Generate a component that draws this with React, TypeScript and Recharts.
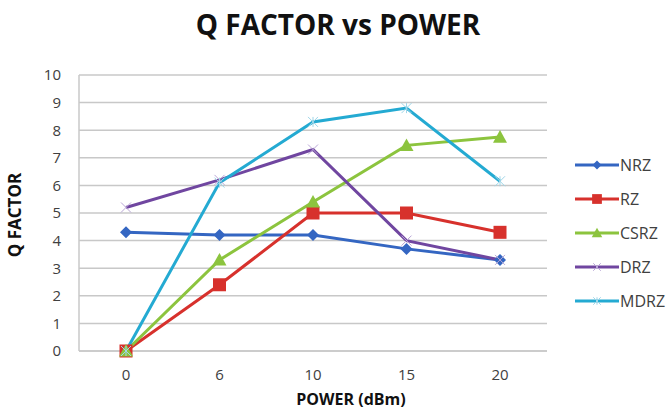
import { CartesianGrid, Line, LineChart, XAxis, YAxis } from "recharts";

const powers = ["0", "6", "10", "15", "20"];
const nrz = [4.3, 4.2, 4.2, 3.7, 3.3];
const rz = [0, 2.4, 5.0, 5.0, 4.3];
const csrz = [0, 3.3, 5.4, 7.45, 7.75];
const drz = [5.2, 6.2, 7.3, 4.0, 3.3];
const mdrz = [0, 6.1, 8.3, 8.8, 6.15];
const yTicks = [0, 1, 2, 3, 4, 5, 6, 7, 8, 9, 10];

const data = powers.map((p, i) => ({
  power: p,
  NRZ: nrz[i],
  RZ: rz[i],
  CSRZ: csrz[i],
  DRZ: drz[i],
  MDRZ: mdrz[i],
}));

type MarkerKind = "diamond" | "square" | "triangle" | "cross" | "plus";

const seriesList: { key: string; color: string; marker: MarkerKind }[] = [
  { key: "NRZ", color: "#3466c2", marker: "diamond" },
  { key: "RZ", color: "#d7312c", marker: "square" },
  { key: "CSRZ", color: "#8cc43e", marker: "triangle" },
  { key: "DRZ", color: "#7046a0", marker: "cross" },
  { key: "MDRZ", color: "#24aad2", marker: "plus" },
];

const font = "'Open Sans', sans-serif";

const Marker = ({ kind, cx, cy, color, scale = 1 }: { kind: MarkerKind; cx: number; cy: number; color: string; scale?: number }) => {
  const s = scale;
  if (kind === "diamond") {
    const r = 6 * s;
    return <polygon points={`${cx},${cy - r} ${cx + r},${cy} ${cx},${cy + r} ${cx - r},${cy}`} fill={color} />;
  }
  if (kind === "square") {
    const r = 6.5 * s;
    return <rect x={cx - r} y={cy - r} width={r * 2} height={r * 2} fill={color} />;
  }
  if (kind === "triangle") {
    const r = 7 * s;
    return <polygon points={`${cx},${cy - r} ${cx + r},${cy + r * 0.8} ${cx - r},${cy + r * 0.8}`} fill={color} />;
  }
  if (kind === "cross") {
    const r = 5 * s;
    return (
      <g stroke="#b9a6d6" strokeWidth={1}>
        <line x1={cx - r} y1={cy - r} x2={cx + r} y2={cy + r} />
        <line x1={cx - r} y1={cy + r} x2={cx + r} y2={cy - r} />
      </g>
    );
  }
  const r = 5 * s;
  return (
    <g stroke="#9fd6e8" strokeWidth={1}>
      <line x1={cx - r} y1={cy - r} x2={cx + r} y2={cy + r} />
      <line x1={cx - r} y1={cy + r} x2={cx + r} y2={cy - r} />
      <line x1={cx} y1={cy - r} x2={cx} y2={cy + r} />
    </g>
  );
};

const makeDot = (kind: MarkerKind, color: string) => (props: { cx?: number; cy?: number; index?: number }) => {
  const { cx = 0, cy = 0, index = 0 } = props;
  return (
    <g key={`dot-${kind}-${index}`}>
      <Marker kind={kind} cx={cx} cy={cy} color={color} />
    </g>
  );
};

const LegendBox = () => (
  <div style={{ position: "absolute", left: 575, top: 148, fontFamily: font, fontSize: 16, color: "#404040" }}>
    {seriesList.map((s) => (
      <div key={s.key} style={{ display: "flex", alignItems: "center", height: 34 }}>
        <svg width={44} height={16}>
          <line x1={0} y1={8} x2={44} y2={8} stroke={s.color} strokeWidth={3} />
          <Marker kind={s.marker} cx={22} cy={8} color={s.color} scale={0.75} />
        </svg>
        <span style={{ marginLeft: 1 }}>{s.key}</span>
      </div>
    ))}
  </div>
);

const App = () => (
  <div style={{ position: "absolute", left: 0, top: 0, width: 669, height: 409, background: "#fff" }}>
    <LineChart width={669} height={409} data={data} margin={{ top: 75, right: 122, left: 0, bottom: 28 }}>
      <text x={338} y={35} textAnchor="middle" fontFamily={font} fontWeight={700} fontSize={28} fill="#111">
        Q FACTOR vs POWER
      </text>
      <text
        x={21}
        y={215}
        transform="rotate(-90 21 215)"
        textAnchor="middle"
        fontFamily={font}
        fontWeight={700}
        fontSize={17}
        fill="#111"
      >
        Q FACTOR
      </text>
      <text x={351} y={405} textAnchor="middle" fontFamily={font} fontWeight={700} fontSize={16} fill="#111">
        POWER (dBm)
      </text>
      <CartesianGrid vertical={false} stroke="#c8c8c8" strokeWidth={1.5} />
      <XAxis
        dataKey="power"
        height={30}
        padding={{ left: 47, right: 47 }}
        axisLine={{ stroke: "#c8c8c8", strokeWidth: 1.5 }}
        tickLine={false}
        tickSize={0}
        tickMargin={18}
        tick={{ fontFamily: font, fontSize: 15, fill: "#404040" }}
      />
      <YAxis
        width={79}
        domain={[0, 10]}
        ticks={yTicks}
        interval={0}
        axisLine={{ stroke: "#c8c8c8", strokeWidth: 1.5 }}
        tickLine={false}
        tickSize={0}
        tickMargin={18}
        tick={{ fontFamily: font, fontSize: 15, fill: "#404040" }}
      />
      {seriesList.map((s) => (
        <Line
          key={s.key}
          type="linear"
          dataKey={s.key}
          stroke={s.color}
          strokeWidth={3}
          dot={makeDot(s.marker, s.color)}
          activeDot={false}
          isAnimationActive={false}
        />
      ))}
    </LineChart>
    <LegendBox />
  </div>
);

export default App;
